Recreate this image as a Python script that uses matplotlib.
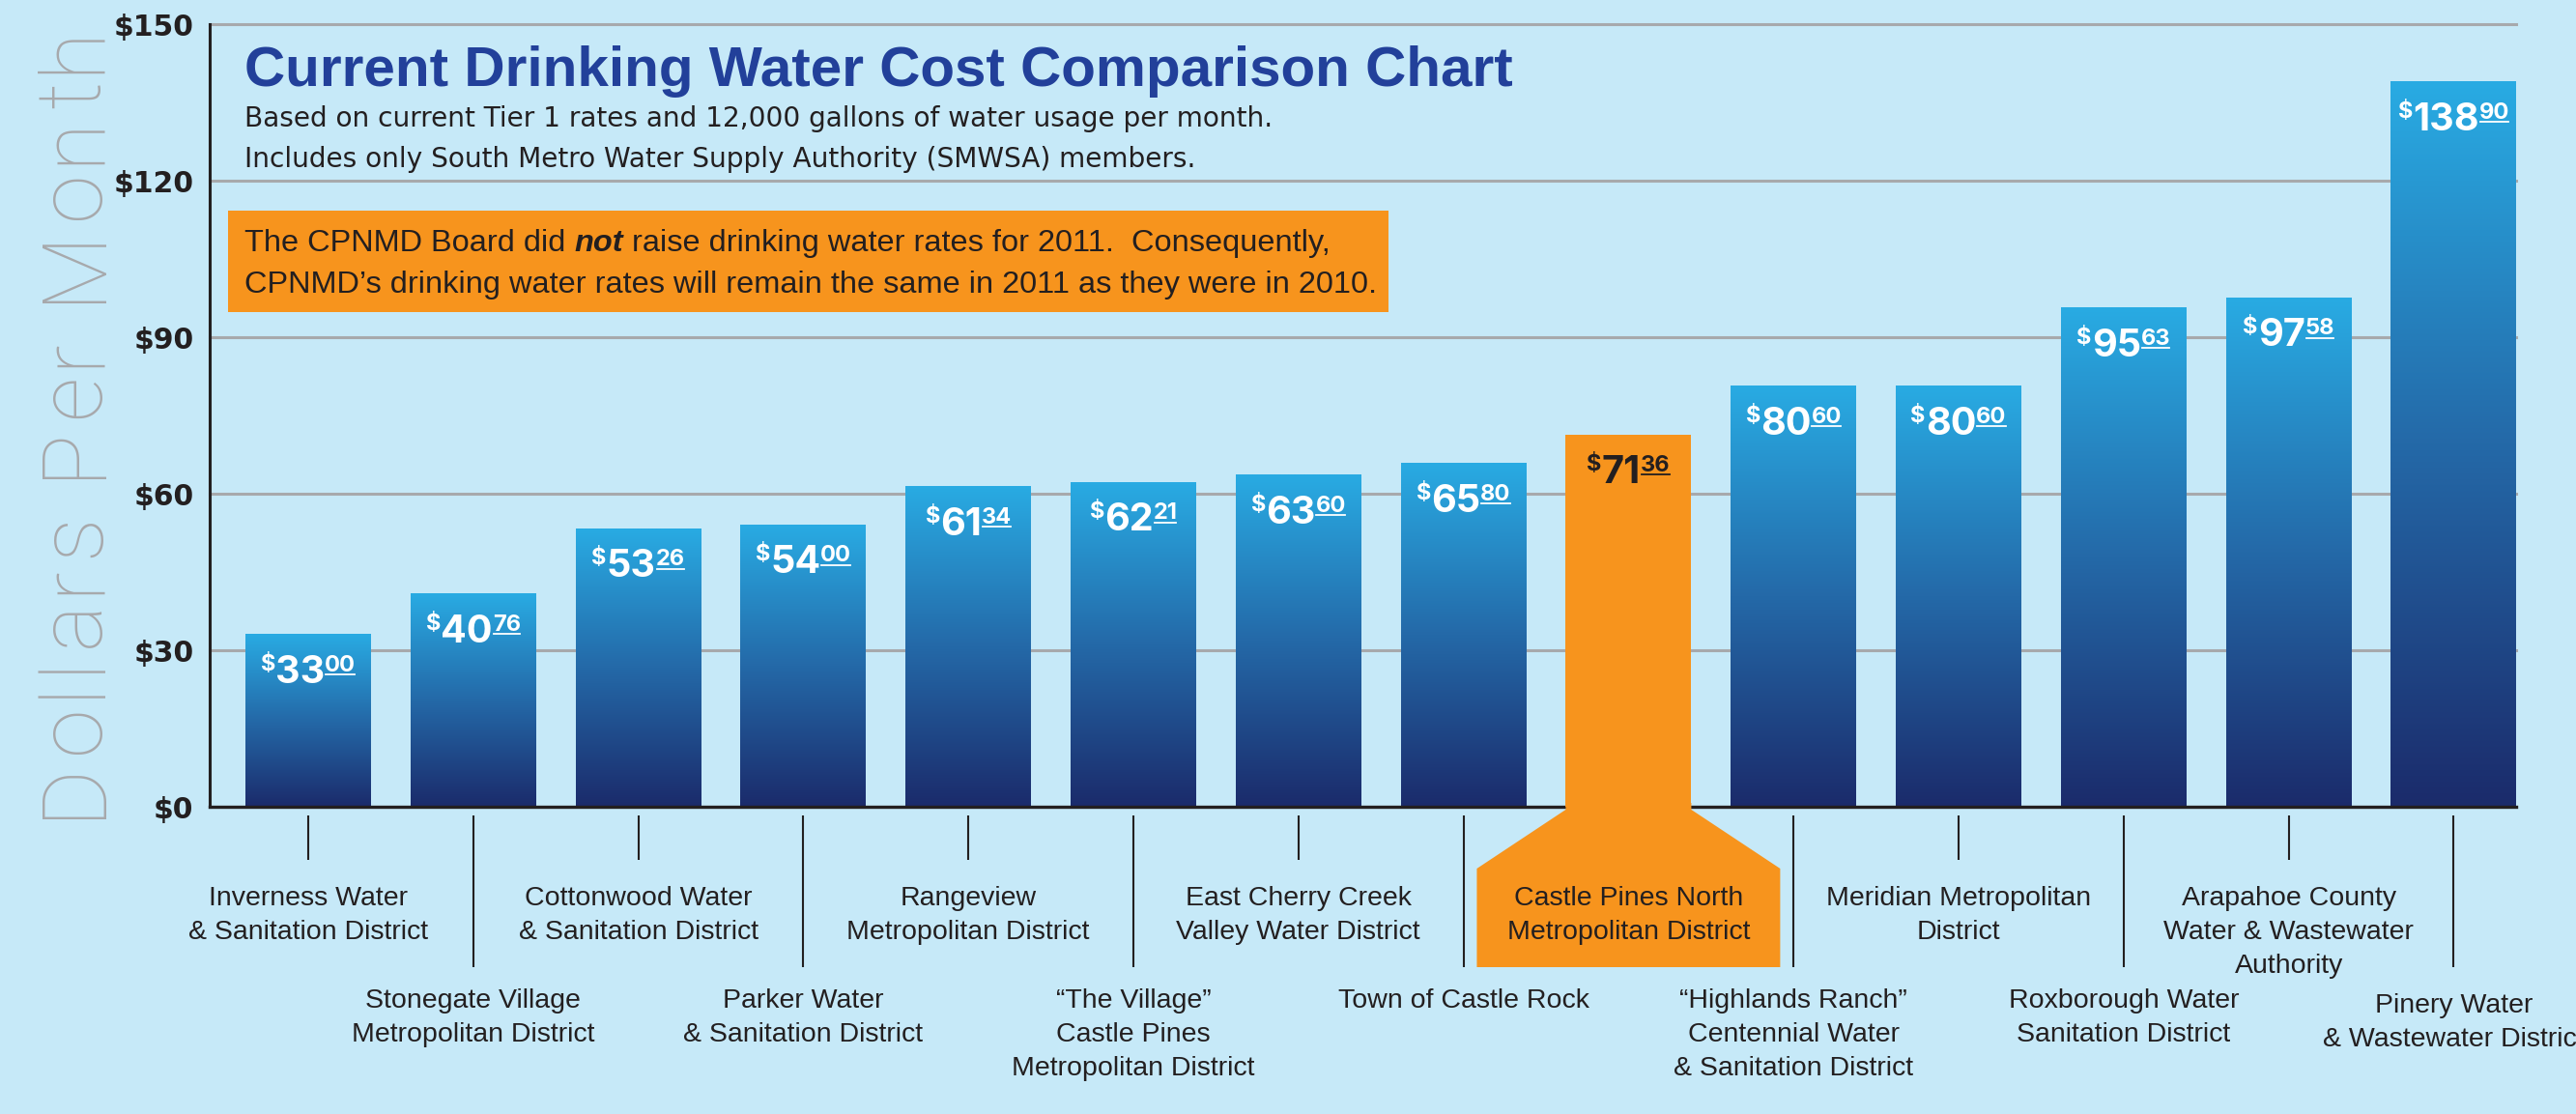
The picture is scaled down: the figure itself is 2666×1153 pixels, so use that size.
import matplotlib
matplotlib.use("Agg")
import numpy as np
import matplotlib.pyplot as plt
import matplotlib.transforms as mtransforms
from matplotlib.colors import LinearSegmentedColormap
from matplotlib.patches import Polygon, Rectangle
from matplotlib.lines import Line2D

# ---------------- data ----------------
districts = [
    "Inverness Water & Sanitation District",
    "Stonegate Village Metropolitan District",
    "Cottonwood Water & Sanitation District",
    "Parker Water & Sanitation District",
    "Rangeview Metropolitan District",
    "\u201cThe Village\u201d Castle Pines Metropolitan District",
    "East Cherry Creek Valley Water District",
    "Town of Castle Rock",
    "Castle Pines North Metropolitan District",
    "\u201cHighlands Ranch\u201d Centennial Water & Sanitation District",
    "Meridian Metropolitan District",
    "Roxborough Water Sanitation District",
    "Arapahoe County Water & Wastewater Authority",
    "Pinery Water & Wastewater District",
]
district_label_lines = [
    ["Inverness Water", "& Sanitation District"],
    ["Stonegate Village", "Metropolitan District"],
    ["Cottonwood Water", "& Sanitation District"],
    ["Parker Water", "& Sanitation District"],
    ["Rangeview", "Metropolitan District"],
    ["\u201cThe Village\u201d", "Castle Pines", "Metropolitan District"],
    ["East Cherry Creek", "Valley Water District"],
    ["Town of Castle Rock"],
    ["Castle Pines North", "Metropolitan District"],
    ["\u201cHighlands Ranch\u201d", "Centennial Water", "& Sanitation District"],
    ["Meridian Metropolitan", "District"],
    ["Roxborough Water", "Sanitation District"],
    ["Arapahoe County", "Water & Wastewater", "Authority"],
    ["Pinery Water", "& Wastewater District"],
]
monthly_cost = [33.00, 40.76, 53.26, 54.00, 61.34, 62.21, 63.60, 65.80,
                71.36, 80.60, 80.60, 95.63, 97.58, 138.90]
highlight = "Castle Pines North Metropolitan District"
y_ticks = [0, 30, 60, 90, 120, 150]
y_tick_labels = ["$0", "$30", "$60", "$90", "$120", "$150"]
y_label = "Dollars Per Month"
title = "Current Drinking Water Cost Comparison Chart"
subtitle_lines = [
    "Based on current Tier 1 rates and 12,000 gallons of water usage per month.",
    "Includes only South Metro Water Supply Authority (SMWSA) members.",
]
note_line1 = ("The CPNMD Board did ", "not", " raise drinking water rates for 2011.  Consequently,")
note_line2 = "CPNMD\u2019s drinking water rates will remain the same in 2011 as they were in 2010."

# ---------------- style ----------------
W, H, DPI = 2666, 1153, 100
BG = "#c6e9f8"
DARK = "#231f20"
ORANGE = "#f7941d"
GRID = "#a7a9ac"
TITLE_C = "#22409a"
BODY = "Liberation Sans"

fig = plt.figure(figsize=(W / DPI, H / DPI), dpi=DPI, facecolor=BG)
ax = fig.add_axes([217 / W, (H - 835) / H, (2604 - 217) / W, (835 - 25) / H])
ax.set_facecolor("none")

inch = fig.dpi_scale_trans
trans = mtransforms.blended_transform_factory(ax.transData, inch)
ident = mtransforms.IdentityTransform()
renderer = fig.canvas.get_renderer()


def yin(p):
    """pixel row (from top) -> inches from bottom"""
    return (H - p) / DPI


def twidth(s, **kw):
    t = fig.text(0, 0, s, transform=ident, parse_math=False, **kw)
    w = t.get_window_extent(renderer).width
    t.remove()
    return w


def advance(s, **kw):
    return twidth("|" + s + "|", **kw) - twidth("||", **kw)


x = np.arange(len(monthly_cost))
bw = 0.761
hi = districts.index(highlight)

cmap = LinearSegmentedColormap.from_list("water", ["#1b2b6b", "#2469a8", "#29abe3"])
grad = np.linspace(0, 1, 256).reshape(-1, 1)

bars = ax.bar(x, monthly_cost, width=bw, color="none", edgecolor="none", zorder=2)
for i, b in enumerate(bars):
    if i == hi:
        b.set_facecolor(ORANGE)
        b.set_zorder(3)
    else:
        x0 = b.get_x()
        ax.imshow(grad, extent=[x0, x0 + b.get_width(), 0, b.get_height()],
                  origin="lower", aspect="auto", cmap=cmap, zorder=2,
                  interpolation="bilinear")

# orange "flask" below the highlighted bar
c = x[hi]
flare = 0.919
pts = [(c - bw / 2, yin(831)), (c - bw / 2, yin(838)), (c - flare, yin(899)),
       (c - flare, yin(1001)), (c + flare, yin(1001)), (c + flare, yin(899)),
       (c + bw / 2, yin(838)), (c + bw / 2, yin(831))]
ax.add_patch(Polygon(pts, closed=True, transform=trans, fc=ORANGE, ec="none",
                     zorder=4, clip_on=False))

# tick marks under the axis
for i in x:
    if i == hi:
        continue
    yend = 890 if i % 2 == 0 else 1001
    ax.plot([i, i], [yin(844), yin(yend)], transform=trans, color=DARK, lw=1.5,
            clip_on=False, solid_capstyle="butt", zorder=3)

# category labels
for i, lines in enumerate(district_label_lines):
    base = [937, 972, 1007] if i % 2 == 0 else [1043, 1078, 1113]
    if i == len(district_label_lines) - 1:
        base = [b + 5 for b in base]
    for k, line in enumerate(lines):
        ax.text(i, yin(base[k]), line, transform=trans, ha="center", va="baseline",
                fontsize=20.5, family=BODY, color=DARK, zorder=6, clip_on=False)

# axes styling
ax.set_xlim(-0.597, 13.378)
ax.set_ylim(0, 150)
ax.set_xticks([])
ax.set_yticks(y_ticks, y_tick_labels)
ax.tick_params(axis="y", length=0, pad=12, labelsize=21.5, labelcolor=DARK)
for lab in ax.get_yticklabels():
    lab.set_fontweight("bold")
    lab.set_family("DejaVu Sans")
ax.yaxis.grid(True, color=GRID, lw=2.2)
ax.set_axisbelow(True)
for gl in ax.get_ygridlines():
    gl.set_clip_on(False)
for s in ["top", "right"]:
    ax.spines[s].set_visible(False)
ax.spines["left"].set_linewidth(2.2)
ax.spines["left"].set_color(DARK)
ax.spines["bottom"].set_linewidth(2.4)
ax.spines["bottom"].set_color(DARK)

# y label, drawn with extra letter spacing (bottom-to-top)
ykw = dict(fontsize=66, family="Roboto", fontweight="light", color=GRID)
adv = [advance(ch, **ykw) for ch in y_label]
natural = sum(adv)
target = 847 - 26
track = (target - natural) / (len(y_label) - 1)
pos = 847.0
for ch, a in zip(y_label, adv):
    if ch != " ":
        fig.text(102, H - pos, ch, transform=ident, rotation=90, rotation_mode="anchor",
                 ha="left", va="baseline", **ykw)
    pos -= a + track

# title block
fig.text(253 / DPI, yin(89), title, transform=inch, ha="left", va="baseline",
         fontsize=42, family=BODY, fontweight="bold", color=TITLE_C)
for k, s in enumerate(subtitle_lines):
    fig.text(253 / DPI, yin([131, 173][k]), s, transform=inch, ha="left",
             va="baseline", fontsize=20.2, family="DejaVu Sans", color=DARK)

fig.patches.append(Rectangle((236 / DPI, yin(323)), (1437 - 236) / DPI, (323 - 218) / DPI,
                             transform=inch, fc=ORANGE, ec="none", zorder=1))

nkw = dict(fontsize=23.4, family=BODY, color=DARK)
xp = 253
for part, style in zip(note_line1, ["normal", "bolditalic", "normal"]):
    kw = dict(nkw)
    if style == "bolditalic":
        kw.update(fontweight="bold", fontstyle="italic")
    fig.text(xp, H - 260, part, transform=ident, ha="left", va="baseline",
             parse_math=False, zorder=2, **kw)
    xp += advance(part, **kw)
fig.text(253, H - 303, note_line2, transform=ident, ha="left", va="baseline",
         zorder=2, **nkw)

# value labels: small $ , big dollars, underlined small cents
VF = "Inter"
for i, v in enumerate(monthly_cost):
    col = DARK if i == hi else "white"
    cx, ty = ax.transData.transform((i, v))
    dollars, cents = f"{v:.2f}".split(".")
    kbig = dict(fontsize=28.5, family=VF, fontweight="bold", color=col)
    ksm = dict(fontsize=17, family=VF, fontweight="bold", color=col)
    w1 = advance("$", **ksm)
    w2 = advance(dollars, **kbig)
    w3 = advance(cents, **ksm)
    tot = w1 + w2 + w3
    x0 = cx - tot / 2
    ybig = ty - 50
    ysm = ty - 38
    fig.text(x0, ysm + 1, "$", transform=ident, ha="left", va="baseline",
             parse_math=False, zorder=5, **ksm)
    fig.text(x0 + w1, ybig, dollars, transform=ident, ha="left",
             va="baseline", zorder=5, **kbig)
    xc = x0 + w1 + w2
    fig.text(xc, ysm, cents, transform=ident, ha="left", va="baseline",
             zorder=5, **ksm)
    fig.add_artist(Line2D([xc + 1, xc + w3 - 1], [ysm - 3.5, ysm - 3.5], transform=ident,
                          color=col, lw=1.3, zorder=5))

fig.savefig("out.png", dpi=DPI, facecolor=BG)
